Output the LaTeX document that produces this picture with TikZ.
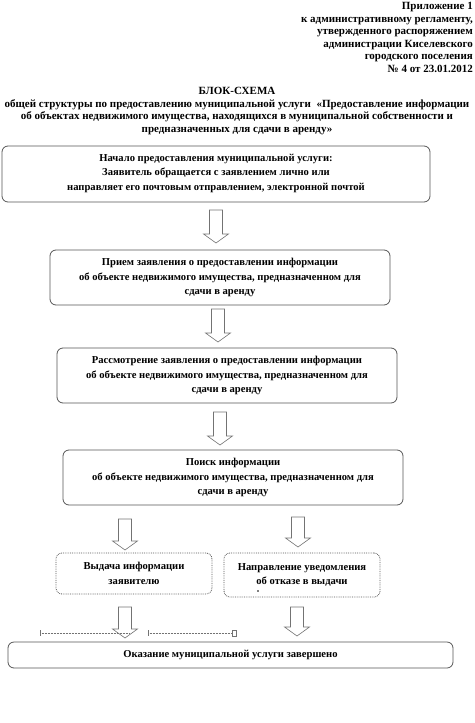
\documentclass[tikz,border=0pt]{standalone}
\usepackage{fontspec}
\setmainfont{Liberation Serif}
\usetikzlibrary{positioning, calc}

\definecolor{boxgray}{RGB}{85,85,85}
\definecolor{arrgray}{RGB}{115,115,115}

\newcommand{\flowfont}{\fontsize{10.6}{14.5}\selectfont\bfseries}
\newcommand{\headfont}{\fontsize{11}{12.6}\selectfont\bfseries}

\tikzset{
  block/.style={draw=boxgray, line width=0.8pt, rounded corners=6pt, align=center, inner sep=0pt, font=\flowfont},
  subblock/.style={block, densely dotted},
  fatarrow/.style={draw=arrgray, line width=0.6pt, fill=white},
  marker/.style={draw=arrgray, densely dotted, line width=0.5pt},
}

% hollow block arrow from #1 down to #2
\newcommand{\fatdown}[2]{%
  \draw[fatarrow] ($(#1)+(-6.5,0)$) -- ($(#1)+(6.5,0)$) -- ($(#2)+(6.5,-9)$)
    -- ($(#2)+(12.5,-9)$) -- (#2) -- ($(#2)+(-12.5,-9)$) -- ($(#2)+(-6.5,-9)$) -- cycle;}

\begin{document}
\begin{tikzpicture}[x=1pt, y=-1pt]
    \useasboundingbox (0,0) rectangle (474,723);

    % Header
    \node[anchor=north east, align=right, inner sep=0pt, font=\headfont] (appendix) at (473,2)
      {Приложение 1\\к административному регламенту,\\утвержденного распоряжением\\администрации Киселевского\\городского поселения\\№ 4 от 23.01.2012};

    % Title
    \node[align=center, inner sep=0pt, font=\headfont, anchor=north] (title) at (237,87)
      {БЛОК-СХЕМА\\общей структуры по предоставлению муниципальной услуги \ «Предоставление информации\\об объектах недвижимого имущества, находящихся в муниципальной собственности и\\предназначенных для сдачи в аренду»};

    % Draw the blocks
    \node[block, minimum width=428, minimum height=56, text depth=4pt] (start) at (216,174)
      {Начало предоставления муниципальной услуги:\\Заявитель обращается с заявлением лично или\\направляет его почтовым отправлением, электронной почтой};
    \node[block, minimum width=340, minimum height=55] (receive) at (220,277.5)
      {Прием заявления о предоставлении информации\\об объекте недвижимого имущества, предназначенном для\\сдачи в аренду};
    \node[block, minimum width=340, minimum height=55] (review) at (227,375.5)
      {Рассмотрение заявления о предоставлении информации\\об объекте недвижимого имущества, предназначенном для\\сдачи в аренду};
    \node[block, minimum width=340, minimum height=55] (search) at (233,477.5)
      {Поиск информации\\об объекте недвижимого имущества, предназначенном для\\сдачи в аренду};
    \node[subblock, minimum width=156, minimum height=41] (issue) at (134,573.5)
      {Выдача информации\\заявителю};
    \node[subblock, minimum width=156, minimum height=44] (refuse) at (302,575)
      {Направление уведомления\\об отказе в выдачи};
    \node[block, minimum width=445, minimum height=26] (finish) at (230.5,655)
      {Оказание муниципальной услуги завершено};
    \fill[black] (258,591) circle (0.8);

    % Arrow ends
    \coordinate (a1s) at (216,210);  \coordinate (a1e) at (216,243);
    \coordinate (a2s) at (218,309);  \coordinate (a2e) at (218,342);
    \coordinate (a3s) at (220,412);  \coordinate (a3e) at (220,445);
    \coordinate (a4s) at (125,519);  \coordinate (a4e) at (125,550);
    \coordinate (a5s) at (298,517);  \coordinate (a5e) at (298,547);
    \coordinate (a6s) at (125,607);  \coordinate (a6e) at (125,638);
    \coordinate (a7s) at (297,607);  \coordinate (a7e) at (297,636);

    % Draw the arrows
    \fatdown{a1s}{a1e}
    \fatdown{a2s}{a2e}
    \fatdown{a3s}{a3e}
    \fatdown{a4s}{a4e}
    \fatdown{a5s}{a5e}
    \fatdown{a6s}{a6e}
    \fatdown{a7s}{a7e}

    % Anchor marks
    \coordinate (m1) at (40,633);  \coordinate (m2) at (130,633);
    \coordinate (m3) at (148,633); \coordinate (m4) at (232,633);
    \draw[marker] (m1) -- (m2);
    \draw[marker] (m3) -- (m4);
    \draw[marker, solid] ($(m1)+(0,-3)$) -- ($(m1)+(0,3)$);
    \draw[marker, solid] ($(m3)+(0,-3)$) -- ($(m3)+(0,3)$);
    \draw[marker, solid] ($(m4)+(0,-3)$) rectangle ($(m4)+(4,3)$);
\end{tikzpicture}
\end{document}
